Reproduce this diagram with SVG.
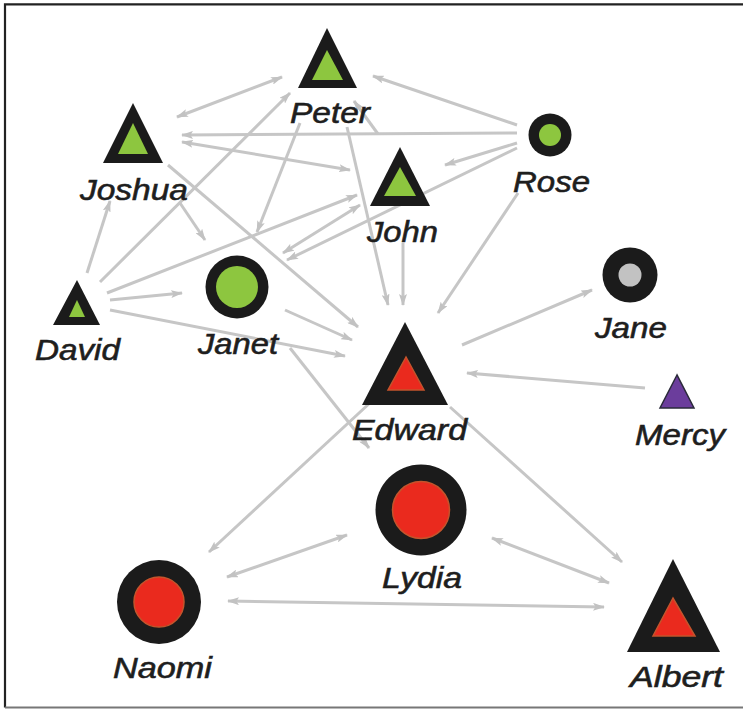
<svg xmlns="http://www.w3.org/2000/svg" width="743" height="710" viewBox="0 0 743 710">
<style>
.lbl{font-family:"Liberation Sans",Arial,sans-serif;font-style:italic;font-size:30px;fill:#1e1e1e;stroke:#1e1e1e;stroke-width:0.6}
.e{stroke:#c6c6c6;stroke-width:3;fill:none}
.blk{fill:#1b1b1b}
.grn{fill:#8dc63f}
.red{fill:#ea2a1e;stroke:#c4542c;stroke-width:1.5}
</style>
<defs>
<marker id="ah" viewBox="0 0 12 8" refX="11" refY="4" markerWidth="12" markerHeight="8" markerUnits="userSpaceOnUse" orient="auto-start-reverse">
<path d="M0,0 L12,4 L0,8 L2.5,4 z" fill="#c2c2c2"/>
</marker>
</defs>
<rect width="743" height="710" fill="#fff"/>
<path d="M743,4.3 H5 V707.5" fill="none" stroke="#222" stroke-width="2.2"/>
<path d="M5,707.5 H743" fill="none" stroke="#777" stroke-width="2"/>
<g id="connectors">
<line class="e" x1="177" y1="117" x2="282" y2="77" marker-start="url(#ah)" marker-end="url(#ah)"/>
<line class="e" x1="517" y1="125" x2="373" y2="76" marker-end="url(#ah)"/>
<line class="e" x1="517" y1="133" x2="182" y2="135" marker-end="url(#ah)"/>
<line class="e" x1="182" y1="142" x2="350" y2="170" marker-start="url(#ah)" marker-end="url(#ah)"/>
<line class="e" x1="517" y1="143" x2="445" y2="165" marker-end="url(#ah)"/>
<line class="e" x1="517" y1="148" x2="287" y2="260" marker-end="url(#ah)"/>
<line class="e" x1="100" y1="282" x2="290" y2="93" marker-end="url(#ah)"/>
<line class="e" x1="87" y1="273" x2="110" y2="201" marker-end="url(#ah)"/>
<line class="e" x1="107" y1="293" x2="357" y2="195" marker-end="url(#ah)"/>
<line class="e" x1="110" y1="300" x2="182" y2="293" marker-end="url(#ah)"/>
<line class="e" x1="110" y1="310" x2="345" y2="356" marker-end="url(#ah)"/>
<line class="e" x1="283" y1="253" x2="360" y2="205" marker-start="url(#ah)" marker-end="url(#ah)"/>
<line class="e" x1="285" y1="310" x2="352" y2="340" marker-end="url(#ah)"/>
<line class="e" x1="290" y1="348" x2="369" y2="448" marker-end="url(#ah)"/>
<line class="e" x1="180" y1="203" x2="205" y2="240" marker-end="url(#ah)"/>
<line class="e" x1="168" y1="165" x2="358" y2="327" marker-end="url(#ah)"/>
<line class="e" x1="300" y1="123" x2="257" y2="232" marker-end="url(#ah)"/>
<line class="e" x1="347" y1="127" x2="388" y2="305" marker-end="url(#ah)"/>
<line class="e" x1="378" y1="134" x2="354" y2="101" marker-end="url(#ah)"/>
<line class="e" x1="403" y1="243" x2="403" y2="305" marker-end="url(#ah)"/>
<line class="e" x1="518" y1="193" x2="438" y2="313" marker-end="url(#ah)"/>
<line class="e" x1="462" y1="345" x2="592" y2="290" marker-end="url(#ah)"/>
<line class="e" x1="645" y1="388" x2="467" y2="373" marker-end="url(#ah)"/>
<line class="e" x1="450" y1="407" x2="622" y2="562" marker-end="url(#ah)"/>
<line class="e" x1="372" y1="401" x2="209" y2="552" marker-end="url(#ah)"/>
<line class="e" x1="347" y1="535" x2="227" y2="577" marker-start="url(#ah)" marker-end="url(#ah)"/>
<line class="e" x1="492" y1="538" x2="609" y2="583" marker-start="url(#ah)" marker-end="url(#ah)"/>
<line class="e" x1="228" y1="601" x2="604" y2="607" marker-start="url(#ah)" marker-end="url(#ah)"/>
</g>
<g id="peter">
<polygon class="blk" points="327,28 298,88 357,88"/>
<polygon class="grn" points="327,50 312,80 343,80"/>
<text class="lbl" x="290" y="123" textLength="80" lengthAdjust="spacingAndGlyphs">Peter</text>
</g>
<g id="joshua">
<polygon class="blk" points="133,103 103,163 163,163"/>
<polygon class="grn" points="133,123 118,154 148,154"/>
<text class="lbl" x="80" y="200" textLength="108" lengthAdjust="spacingAndGlyphs">Joshua</text>
</g>
<g id="rose">
<circle class="blk" cx="550" cy="135" r="21.5"/>
<circle class="grn" cx="550" cy="135" r="11"/>
<text class="lbl" x="513" y="192" textLength="77" lengthAdjust="spacingAndGlyphs">Rose</text>
</g>
<g id="john">
<polygon class="blk" points="400,147 370,206 430,206"/>
<polygon class="grn" points="400,167 384,196 416,196"/>
<text class="lbl" x="367" y="242" textLength="71" lengthAdjust="spacingAndGlyphs">John</text>
</g>
<g id="david">
<polygon class="blk" points="77,280 53,325 100,325"/>
<polygon class="grn" points="77,300 69,317 85,317"/>
<text class="lbl" x="35" y="360" textLength="85" lengthAdjust="spacingAndGlyphs">David</text>
</g>
<g id="janet">
<circle class="blk" cx="237" cy="287" r="31.5"/>
<circle class="grn" cx="237" cy="287" r="21"/>
<text class="lbl" x="198" y="354" textLength="80" lengthAdjust="spacingAndGlyphs">Janet</text>
</g>
<g id="edward">
<polygon class="blk" points="405,322 362,405 448,405"/>
<polygon class="red" points="406,357 388,390 424,390"/>
<text class="lbl" x="352" y="440" textLength="115" lengthAdjust="spacingAndGlyphs">Edward</text>
</g>
<g id="jane">
<circle class="blk" cx="630" cy="275" r="27.5"/>
<circle cx="630" cy="275" r="11.5" fill="#c2c2c2"/>
<text class="lbl" x="595" y="338" textLength="72" lengthAdjust="spacingAndGlyphs">Jane</text>
</g>
<g id="mercy">
<polygon points="677,375 660,408 694,408" fill="#6b3d9c" stroke="#2a2a3a" stroke-width="1.5"/>
<text class="lbl" x="635" y="445" textLength="90" lengthAdjust="spacingAndGlyphs">Mercy</text>
</g>
<g id="lydia">
<circle class="blk" cx="421" cy="510" r="45.5"/>
<circle class="red" cx="421" cy="510" r="28.5"/>
<text class="lbl" x="382" y="588" textLength="80" lengthAdjust="spacingAndGlyphs">Lydia</text>
</g>
<g id="naomi">
<circle class="blk" cx="159" cy="602" r="42"/>
<circle class="red" cx="159" cy="602" r="25"/>
<text class="lbl" x="113" y="678" textLength="99" lengthAdjust="spacingAndGlyphs">Naomi</text>
</g>
<g id="albert">
<polygon class="blk" points="673,559 627,652 720,652"/>
<polygon class="red" points="673,598 653,636 695,636"/>
<text class="lbl" x="630" y="687" textLength="93" lengthAdjust="spacingAndGlyphs">Albert</text>
</g>
</svg>
